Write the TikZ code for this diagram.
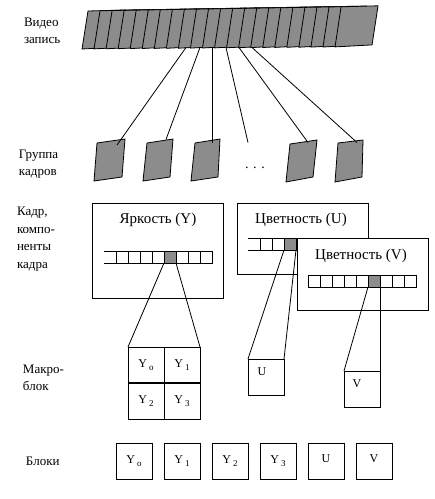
\documentclass[tikz,border=0pt]{standalone}
\usepackage{fontspec}
\setmainfont{Liberation Serif}
\newcommand{\lowsub}[1]{\raisebox{-0.6ex}{\small #1}}
\begin{document}
\begin{tikzpicture}[x=1pt,y=-1pt,line width=0.8pt]
	\tikzstyle{every node}=[inner sep=0pt,outer sep=0pt];
	\tikzstyle{frame}=[draw,fill=gray!90,line join=round];
	\tikzstyle{lbl}=[anchor=west,align=left,font=\fontsize{13}{17.5}\selectfont];
	\tikzstyle{title}=[font=\fontsize{15}{17}\selectfont];
	\tikzstyle{comp}=[draw,fill=white,rectangle,minimum height=71pt,minimum width=131pt];
	\tikzstyle{blk}=[draw,rectangle,minimum size=36pt,font=\fontsize{12}{14}\selectfont];
	\tikzstyle{pix}=[draw,fill=gray!90,rectangle,minimum width=12pt,minimum height=12pt];
	\useasboundingbox (0,0) rectangle (435,499);

	% labels on the left
	\node[lbl] (lvideo) at (24,31)  {Видео\\запись};
	\node[lbl] (lgroup) at (19,164) {Группа\\кадров};
	\node[lbl] (lframe) at (17,239) {Кадр,\\компо-\\ненты\\кадра};
	\node[lbl] (lmacro) at (23,378) {Макро-\\блок};
	\node[lbl] (lblock) at (26,461) {Блоки};

	% video record
	\foreach \i in {0,...,21}
		\path[frame] (82+12.05*\i,49-0.1*\i) -- (88+12.05*\i,11-0.2*\i)
			-- (125+12.05*\i,10-0.2*\i) -- (119+12.05*\i,47-0.1*\i) -- cycle;
	\coordinate (v1) at (186,47.5);
	\coordinate (v2) at (200,47.5);
	\coordinate (v3) at (212,47.5);
	\coordinate (v4) at (226,47.5);
	\coordinate (v5) at (239,47.5);
	\coordinate (v6) at (252,47.5);

	% group of frames
	\path[frame] (97,143) -- (125,139) -- (122,177) -- (94,181) -- cycle;
	\path[frame] (147,143) -- (173,139) -- (170,177) -- (143,181) -- cycle;
	\path[frame] (195,143) -- (220,139) -- (218,177) -- (191,181) -- cycle;
	\path[frame] (290,144) -- (317,140) -- (313,177) -- (286,182) -- cycle;
	\path[frame] (338,143) -- (363,140) -- (362,177) -- (335,182) -- cycle;
	\node (dots) at (255,168) {\fontsize{14}{16}\selectfont . . .};
	\coordinate (g1) at (117,145);
	\coordinate (g2) at (166,139.5);
	\coordinate (g3) at (212,142.5);
	\coordinate (g4) at (248,142.5);
	\coordinate (g5) at (308,142.5);
	\coordinate (g6) at (357,142.5);

	\path[draw] (v1) -- (g1);
	\path[draw] (v2) -- (g2);
	\path[draw] (v3) -- (g3);
	\path[draw] (v4) -- (g4);
	\path[draw] (v5) -- (g5);
	\path[draw] (v6) -- (g6);

	% frame components
	\node[comp,minimum height=95pt] (ybox) at (157.5,250.5) {};
	\node[title] (ytitle) at (158,220) {Яркость (Y)};
	\path[draw] (104,251) -- (212,251) -- (212,263) -- (104,263);
	\foreach \x in {116,128,...,200} \path[draw] (\x,251) -- (\x,263);
	\node[pix] (ypix) at (170,257) {};

	\node[comp] (ubox) at (302.5,238.5) {};
	\node[title] (utitle) at (301,220) {Цветность (U)};
	\path[draw] (248,238) -- (356,238) -- (356,250) -- (248,250);
	\foreach \x in {260,272,...,344} \path[draw] (\x,238) -- (\x,250);
	\node[pix] (upix) at (290,244) {};

	\node[comp,minimum height=72pt] (vbox) at (362.5,274) {};
	\node[title] (vtitle) at (361,256) {Цветность (V)};
	\path[draw] (308,275) rectangle (416,287);
	\foreach \x in {320,332,...,404} \path[draw] (\x,275) -- (\x,287);
	\node[pix] (vpix) at (374,281) {};

	% macroblock
	\node[blk] (mb0) at (146,365) {Y\,\lowsub{o}};
	\node[blk] (mb1) at (182,365) {Y\,\lowsub{1}};
	\node[blk] (mb2) at (146,401) {Y\,\lowsub{2}};
	\node[blk] (mb3) at (182,401) {Y\,\lowsub{3}};
	\path[draw,line width=1.8pt] (mb0.south west) -- (mb1.south east);
	\node[blk] (ublk) at (266,377) {};
	\node[font=\fontsize{12}{14}\selectfont] (ulbl) at (262,372) {U};
	\node[blk] (vblk) at (362,389) {};
	\node[font=\fontsize{12}{14}\selectfont] (vlbl) at (357,384) {V};

	\path[draw] (ypix.south west) -- (mb0.north west);
	\path[draw] (ypix.south east) -- (mb1.north east);
	\path[draw] (upix.south west) -- (ublk.north west);
	\path[draw] (upix.south east) -- (ublk.north east);
	\path[draw] (vpix.south west) -- (vblk.north west);
	\path[draw] (vpix.south east) -- (vblk.north east);

	% blocks
	\node[blk] (b0) at (134,461) {Y\,\lowsub{o}};
	\node[blk] (b1) at (182,461) {Y\,\lowsub{1}};
	\node[blk] (b2) at (230,461) {Y\,\lowsub{2}};
	\node[blk] (b3) at (278,461) {Y\,\lowsub{3}};
	\node[blk] (b4) at (326,461) {\raisebox{5pt}{U}};
	\node[blk] (b5) at (374,461) {\raisebox{5pt}{V}};
\end{tikzpicture}
\end{document}
